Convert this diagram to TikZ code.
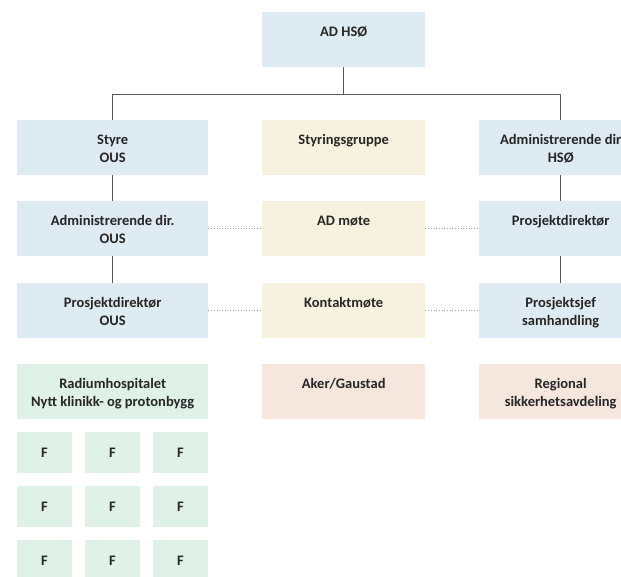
\documentclass[tikz,border=0pt]{standalone}
\usepackage{fontspec}
\setmainfont{Carlito}
\definecolor{bl}{HTML}{DEEBF2}
\definecolor{ye}{HTML}{F7F2E0}
\definecolor{pe}{HTML}{F6E7DE}
\definecolor{gr}{HTML}{E0F1E7}
\definecolor{ln}{HTML}{595959}
\definecolor{dt}{HTML}{9A9A9A}
\definecolor{txt}{HTML}{262626}
\begin{document}
\begin{tikzpicture}[x=1pt,y=-1pt,
  basebox/.style={rectangle, draw=none, inner sep=0pt, anchor=north west, align=center,
    font=\bfseries\fontsize{14.5}{18}\selectfont, text=txt},
  tbox/.style={basebox, text height=24pt, text depth=31pt, minimum height=55pt},
  twoline/.style={text height=42pt, text depth=13pt},
  widebox/.style={tbox, minimum width=191pt},
  midbox/.style={tbox, minimum width=163pt},
  fbox/.style={basebox, minimum width=54.5pt, minimum height=41pt, fill=gr},
  conn/.style={draw=ln, line width=0.9pt},
  dotconn/.style={draw=dt, line width=0.7pt, dotted}]
\clip (0,0) rectangle (621,576);
\fill[white] (0,0) rectangle (621,576);
% top
\node[midbox, fill=bl] (hso) at (262,12) {AD HSØ};
% row 1
\node[widebox, twoline, fill=bl] (styre) at (17,120) {Styre\\OUS};
\node[midbox, fill=ye] (styr) at (262,120) {Styringsgruppe};
\node[midbox, twoline, fill=bl] (adhso) at (479,120) {Administrerende dir\\HSØ};
% row 2
\node[widebox, twoline, fill=bl] (adous) at (17,201) {Administrerende dir.\\OUS};
\node[midbox, fill=ye] (admote) at (262,201) {AD møte};
\node[midbox, fill=bl] (pd) at (479,201) {Prosjektdirektør};
% row 3
\node[widebox, twoline, fill=bl] (pdous) at (17,283) {Prosjektdirektør\\OUS};
\node[midbox, fill=ye] (kontakt) at (262,283) {Kontaktmøte};
\node[midbox, twoline, fill=bl] (psjef) at (479,283) {Prosjektsjef\\samhandling};
% row 4
\node[widebox, twoline, fill=gr] (radium) at (17,364) {Radiumhospitalet\\Nytt klinikk- og protonbygg};
\node[midbox, fill=pe] (aker) at (262,364) {Aker/Gaustad};
\node[midbox, twoline, fill=pe] (regional) at (479,364) {Regional\\sikkerhetsavdeling};
% F grid
\node[fbox] (f11) at (17,432) {F};
\node[fbox] (f12) at (85,432) {F};
\node[fbox] (f13) at (153,432) {F};
\node[fbox] (f21) at (17,486) {F};
\node[fbox] (f22) at (85,486) {F};
\node[fbox] (f23) at (153,486) {F};
\node[fbox] (f31) at (17,540) {F};
\node[fbox] (f32) at (85,540) {F};
\node[fbox] (f33) at (153,540) {F};
% connectors
\draw[conn] (hso.south) -- ++(0,27) coordinate (bus) -| (styre.north);
\draw[conn] (bus) -| (adhso.north);
\draw[conn] (styre.south) -- (adous.north);
\draw[conn] (adous.south) -- (pdous.north);
\draw[conn] (adhso.south) -- (pd.north);
\draw[conn] (pd.south) -- (psjef.north);
\draw[dotconn] (adous.east) -- (admote.west);
\draw[dotconn] (admote.east) -- (pd.west);
\draw[dotconn] (pdous.east) -- (kontakt.west);
\draw[dotconn] (kontakt.east) -- (psjef.west);
\end{tikzpicture}
\end{document}
